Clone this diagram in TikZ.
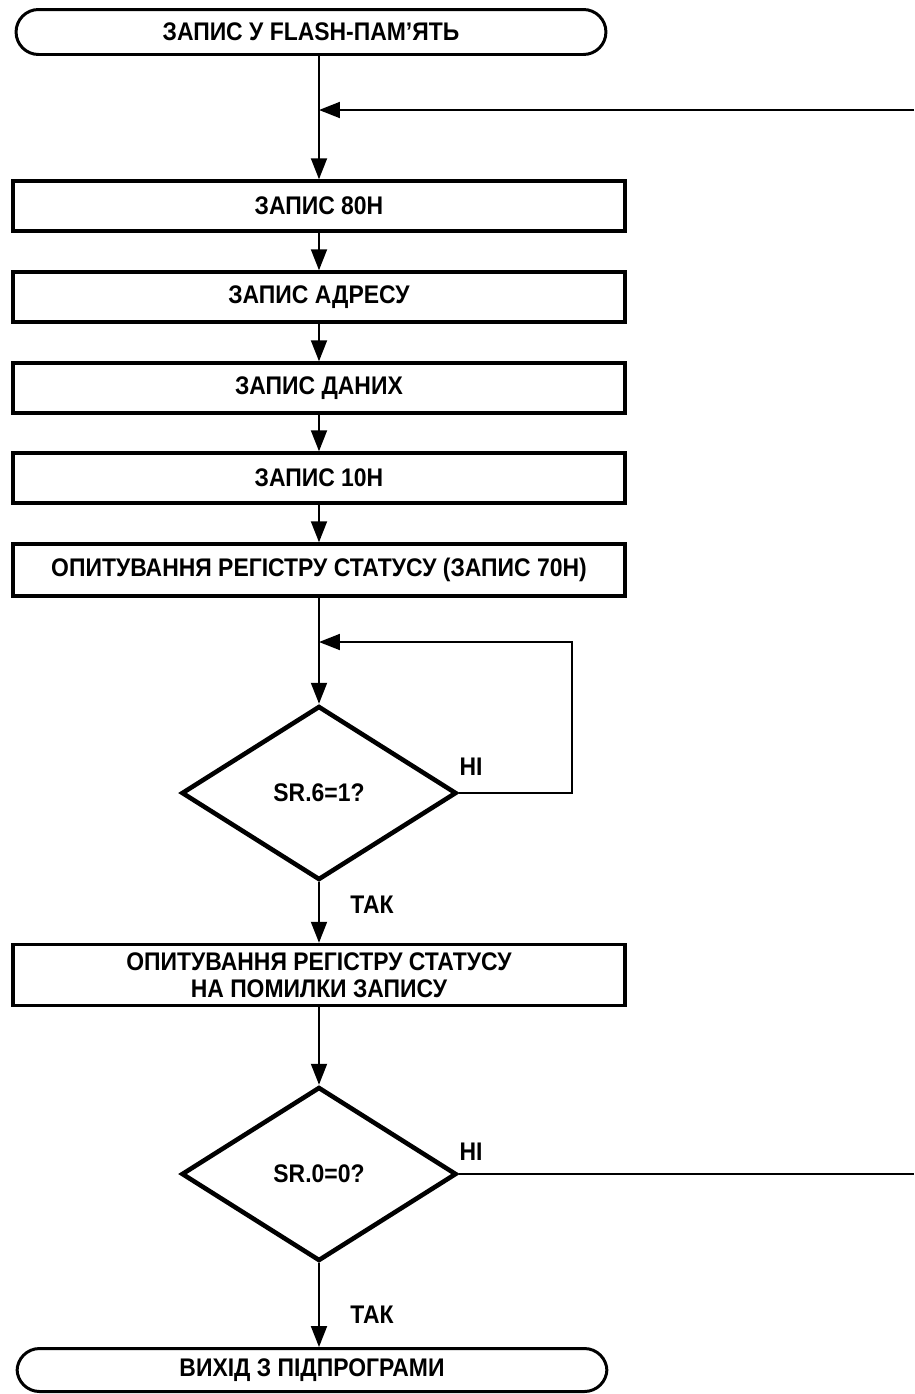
\documentclass[tikz,border=0pt]{standalone}
\usepackage{fontspec}
\newfontfamily\flowfont{Liberation Sans}[FakeStretch=0.9]
\usetikzlibrary{positioning,arrows.meta,shapes.geometric}

\begin{document}
\begin{tikzpicture}[
      x=0.02cm,y=-0.02cm,
      every node/.style={font=\flowfont\bfseries\fontsize{14.5}{15.5}\selectfont},
      term/.style={draw,line width=1.7pt,rounded corners=0.45cm,
        minimum width=11.8cm,minimum height=0.9cm,inner sep=0pt},
      proc/.style={draw,line width=2pt,minimum width=12.25cm,
        minimum height=1cm,align=center,inner sep=2pt},
      test/.style={diamond,draw,line width=2.6pt,minimum width=5.5cm,
        minimum height=3.48cm,inner sep=0pt},
      flow/.style={draw,line width=1.1pt,
        -{Triangle[length=4.2mm,width=3.2mm]}},
      wire/.style={draw,line width=1.1pt},
      tag/.style={inner sep=0pt}
    ]
    \useasboundingbox (0,0) rectangle (914,1394);
    \node[term] (start) at (311,32) {ЗАПИС У FLASH-ПАМ’ЯТЬ};
    \node[proc] (wr80) at (319,206) {ЗАПИС 80Н};
    \node[proc] (wradr) at (319,297) {ЗАПИС АДРЕСУ};
    \node[proc] (wrdat) at (319,388) {ЗАПИС ДАНИХ};
    \node[proc] (wr10) at (319,478) {ЗАПИС 10Н};
    \node[proc,minimum height=1.04cm] (poll) at (319,570)
      {ОПИТУВАННЯ РЕГІСТРУ СТАТУСУ (ЗАПИС 70Н)};
    \node[test] (sr6) at (319,793) {SR.6=1?};
    \node[proc,minimum height=1.22cm] (err) at (319,975)
      {ОПИТУВАННЯ РЕГІСТРУ СТАТУСУ\\НА ПОМИЛКИ ЗАПИСУ};
    \node[test] (sr0) at (319,1174) {SR.0=0?};
    \node[term,minimum height=0.86cm] (done) at (312,1370) {ВИХІД З ПІДПРОГРАМИ};

    % join points on the main line
    \coordinate (j1) at (319,110);
    \coordinate (in1) at (914,110);
    \coordinate (j2) at (319,642);
    \coordinate (out1) at (914,1174);

    \draw[wire] (wr80.north |- start.south) -- (j1);
    \draw[flow] (j1) -- (wr80);
    \draw[flow] (in1) -- (j1);
    \draw[flow] (wr80) -- (wradr);
    \draw[flow] (wradr) -- (wrdat);
    \draw[flow] (wrdat) -- (wr10);
    \draw[flow] (wr10) -- (poll);
    \draw[wire] (poll) -- (j2);
    \draw[flow] (j2) -- (sr6.north);
    % wait loop on SR.6
    \draw[flow] (sr6.east) -- (572,793) -- (572,642) -- (j2);
    \draw[flow] (sr6.south) -- (err);
    \draw[flow] (err) -- (sr0.north);
    \draw[wire] (sr0.east) -- (out1);
    \draw[flow] (sr0.south) -- (sr0.south |- done.north);

    \node[tag] (no6) at (471,767) {НІ};
    \node[tag] (yes6) at (372,905) {ТАК};
    \node[tag] (no0) at (471,1152) {НІ};
    \node[tag] (yes0) at (372,1315) {ТАК};
  \end{tikzpicture}
\end{document}
